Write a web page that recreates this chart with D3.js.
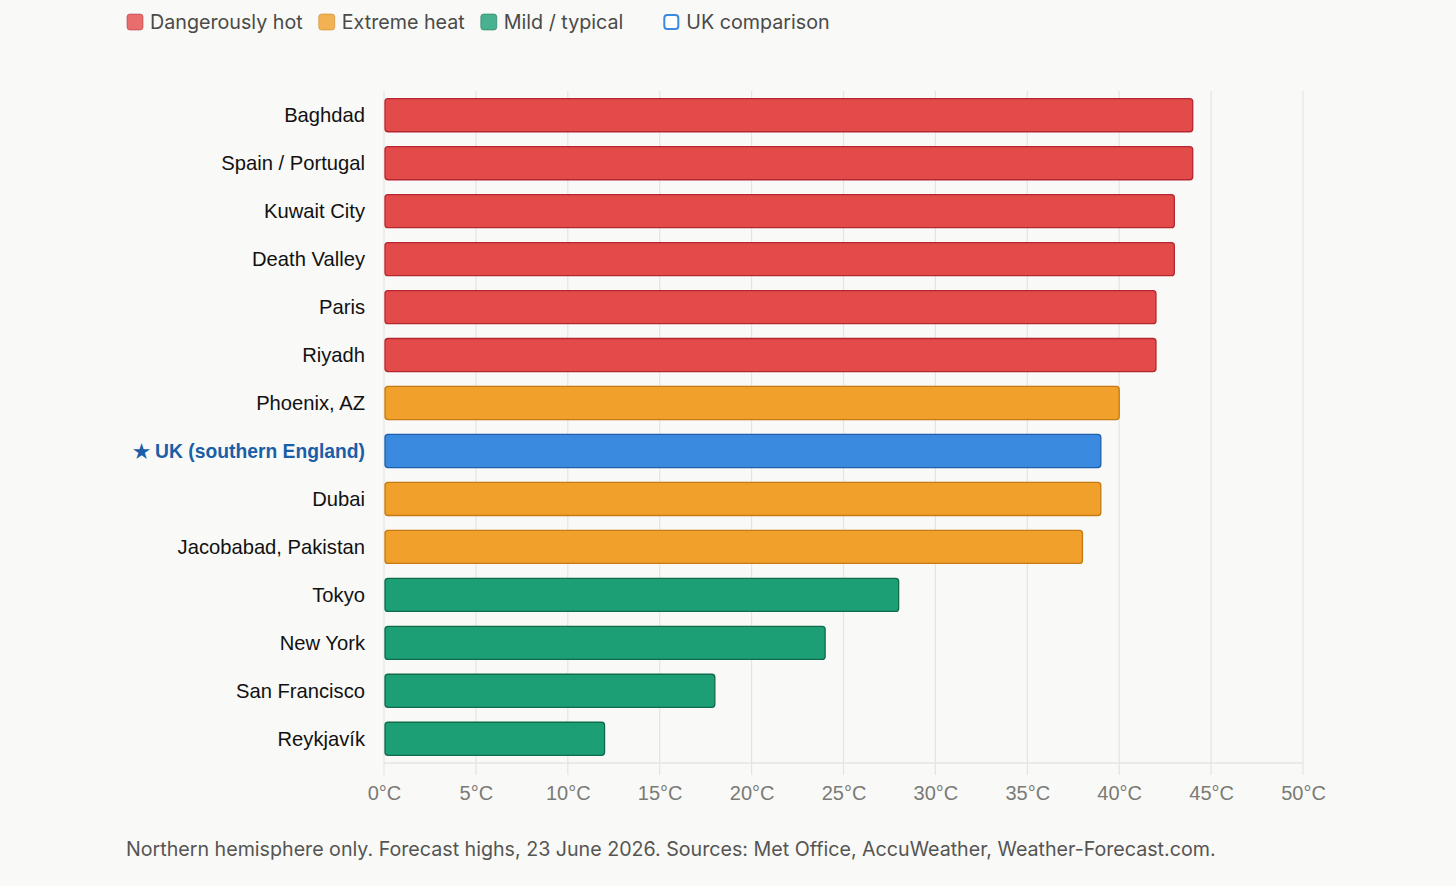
<!DOCTYPE html>
<html>
<head>
<meta charset="utf-8">
<script src="https://cdn.jsdelivr.net/npm/d3@7"></script>
<style>
  html, body { margin: 0; padding: 0; background: #f9f9f7; }
  svg { display: block; }
</style>
</head>
<body>
<svg id="chart" width="1456" height="886"></svg>
<script>
const cities = ["Baghdad", "Spain / Portugal", "Kuwait City", "Death Valley", "Paris", "Riyadh",
  "Phoenix, AZ", "UK (southern England)", "Dubai", "Jacobabad, Pakistan", "Tokyo", "New York",
  "San Francisco", "Reykjavík"];
const highs = [44, 44, 43, 43, 42, 42, 40, 39, 39, 38, 28, 24, 18, 12];
const groups = ["hot", "hot", "hot", "hot", "hot", "hot", "extreme", "uk", "extreme", "extreme",
  "mild", "mild", "mild", "mild"];
const xTicks = [0, 5, 10, 15, 20, 25, 30, 35, 40, 45, 50];
const legendKeys = ["hot", "extreme", "mild", "uk"];
const legendLabels = ["Dangerously hot", "Extreme heat", "Mild / typical", "UK comparison"];
const note = "Northern hemisphere only. Forecast highs, 23 June 2026. Sources: Met Office, AccuWeather, Weather-Forecast.com.";

const fills = { hot: "#e34b4b", extreme: "#f0a02b", mild: "#1c9f74", uk: "#3a8ae0" };
const strokes = { hot: "#b52630", extreme: "#c57a12", mild: "#0f6b4c", uk: "#1f5fae" };

const svg = d3.select("#chart");
const labelFont = "'Liberation Sans', Arial, sans-serif";
const uiFont = "Inter, 'Noto Sans', sans-serif";

const x = d3.scaleLinear().domain([0, 50]).range([384, 1303]);
const y = d3.scaleBand().domain(cities).range([91, 763]).paddingInner(0.31).paddingOuter(0.16);

// grid
svg.append("g")
  .selectAll("line")
  .data(xTicks)
  .join("line")
  .attr("x1", d => x(d)).attr("x2", d => x(d))
  .attr("y1", 91).attr("y2", 775)
  .attr("stroke", "#e4e4e1")
  .attr("stroke-width", 1.2);

// axis baseline
svg.append("line")
  .attr("x1", x(0)).attr("x2", x(50))
  .attr("y1", 763).attr("y2", 763)
  .attr("stroke", "#e4e4e1")
  .attr("stroke-width", 1.5);

// tick labels
const xAxis = svg.append("g")
  .attr("transform", "translate(0, 778)")
  .call(d3.axisBottom(x).tickValues(xTicks).tickSize(0).tickPadding(8).tickFormat(d => `${d}°C`));
xAxis.select(".domain").remove();
xAxis.selectAll("text")
  .attr("font-family", labelFont)
  .attr("font-size", 20)
  .attr("fill", "#7a7a76");

// bars
svg.append("g")
  .selectAll("rect")
  .data(cities)
  .join("rect")
  .attr("x", x(0) + 1)
  .attr("y", d => y(d))
  .attr("width", (d, i) => x(highs[i]) - x(0) - 1)
  .attr("height", y.bandwidth())
  .attr("rx", 3)
  .attr("fill", (d, i) => fills[groups[i]])
  .attr("stroke", (d, i) => strokes[groups[i]])
  .attr("stroke-width", 1.3);

// category labels
svg.append("g")
  .selectAll("text")
  .data(cities)
  .join("text")
  .attr("x", 365)
  .attr("y", d => y(d) + y.bandwidth() / 2)
  .attr("dy", "0.35em")
  .attr("text-anchor", "end")
  .attr("font-family", labelFont)
  .attr("font-size", (d, i) => groups[i] === "uk" ? 19.3 : 20.2)
  .attr("font-weight", (d, i) => groups[i] === "uk" ? 600 : 400)
  .attr("fill", (d, i) => groups[i] === "uk" ? "#1a5ea8" : "#111")
  .text((d, i) => groups[i] === "uk" ? `★ ${d}` : d);

// legend
const legend = svg.append("g").attr("transform", "translate(127, 22)");
let lx = 0;
legendKeys.forEach((k, i) => {
  if (k === "uk") lx += 24;
  const g = legend.append("g").attr("transform", `translate(${lx}, 0)`);
  const isUk = k === "uk";
  g.append("rect")
    .attr("x", isUk ? 1 : 0).attr("y", isUk ? -7 : -8)
    .attr("width", isUk ? 14 : 16).attr("height", isUk ? 14 : 16)
    .attr("rx", 3)
    .attr("fill", isUk ? "#ffffff" : fills[k])
    .attr("fill-opacity", isUk ? 1 : 0.8)
    .attr("stroke", isUk ? fills[k] : strokes[k])
    .attr("stroke-opacity", isUk ? 1 : 0.5)
    .attr("stroke-width", isUk ? 2 : 1);
  const t = g.append("text")
    .attr("x", 23)
    .attr("dy", "0.35em")
    .attr("font-family", uiFont)
    .attr("font-size", 19.7)
    .attr("fill", "#4a4a48")
    .text(legendLabels[i]);
  lx += 23 + t.node().getComputedTextLength() + 16;
});

// footnote
svg.append("text")
  .attr("x", 126)
  .attr("y", 849)
  .attr("dy", "0.35em")
  .attr("font-family", uiFont)
  .attr("font-size", 19.65)
  .attr("fill", "#555553")
  .text(note);
</script>
</body>
</html>
